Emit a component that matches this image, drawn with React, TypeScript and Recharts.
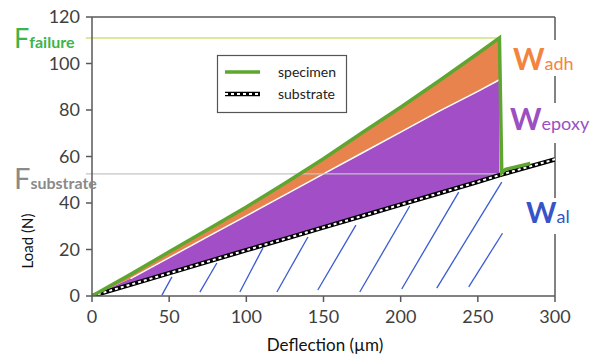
import React from 'react';
import {
  ComposedChart,
  Area,
  Line,
  XAxis,
  YAxis,
  ReferenceLine,
} from 'recharts';

// loading curve (deflection in µm, load in N)
const deflection = [0, 25, 50, 75, 100, 125, 150, 175, 200, 225, 250, 264];
const specimenLoad = [0, 9.3, 19, 28.6, 38.3, 48.5, 59, 70.2, 81.2, 92.6, 104.3, 111];
const epoxyLoad = [0, 7.5, 16.5, 25.5, 34.5, 43.5, 52.5, 61.5, 70.5, 79.5, 88, 93];
const substrateLoad = [0, 4.9, 9.8, 14.8, 19.7, 24.6, 29.5, 34.4, 39.3, 44.2, 49.1, 52];

// after failure the specimen follows the substrate
const afterDeflection = [265.5, 268, 284];
const afterLoad = [53, 54.5, 57];

const substrateEndX = 300;
const substrateEndLoad = 58.8;

const failureLoad = 111;
const substrateFailureLoad = 52.5;

// hand-drawn hatching under the substrate line
const hatchX0 = [45.3, 69.9, 95.8, 119.8, 146.3, 173.5, 200.7, 223.4, 244.1];
const hatchY0 = [0.4, 1.7, 1.7, 1.7, 2.6, 1.7, 3.0, 3.4, 3.9];
const hatchX1 = [51.8, 80.9, 110.7, 139.9, 171, 205.9, 237.6, 265.5, 266];
const hatchY1 = [8.2, 14.2, 20.6, 25.4, 30.5, 38.7, 44.7, 49, 27];

const xTicks = [0, 50, 100, 150, 200, 250, 300];
const yTicks = [0, 20, 40, 60, 80, 100, 120];

const FONT = 'Lato, "Open Sans", sans-serif';
const AXIS = '#595959';
const GREEN = '#5fa630';
const ORANGE = '#e9834e';
const PURPLE = '#a24ec6';
const BLUE = '#3b5bd1';

const fillData = deflection.map((x, i) => ({
  x,
  specimen: specimenLoad[i],
  epoxy: epoxyLoad[i],
  substrate: substrateLoad[i],
}));

const specimenData = [
  ...deflection.map((x, i) => ({ x, load: specimenLoad[i] })),
  ...afterDeflection.map((x, i) => ({ x, load: afterLoad[i] })),
];

const substrateData = [
  ...deflection.map((x, i) => ({ x, load: substrateLoad[i] })),
  { x: substrateEndX, load: substrateEndLoad },
];

const epoxyData = deflection.map((x, i) => ({ x, load: epoxyLoad[i] })).slice(1);

const Labels = () => (
  <svg
    width={598}
    height={357}
    style={{ position: 'absolute', left: 0, top: 0, pointerEvents: 'none' }}
    fontFamily={FONT}
  >
    {/* F labels on the left */}
    <text x={14} y={48} fill="#3cb44b">
      <tspan fontSize={27}>F</tspan>
      <tspan fontSize={16} fontWeight={700}>failure</tspan>
    </text>
    <text x={14} y={189} fill="#8a8a8a">
      <tspan fontSize={29}>F</tspan>
      <tspan fontSize={16} fontWeight={700}>substrate</tspan>
    </text>

    {/* W labels on the right, white boxes break the frame */}
    <rect x={511} y={40} width={62} height={36} fill="#fff" />
    <text x={513} y={70} fill="#f38440">
      <tspan fontSize={30} fontWeight={700}>W</tspan>
      <tspan fontSize={18}>adh</tspan>
    </text>
    <rect x={508} y={103} width={88} height={40} fill="#fff" />
    <text x={510} y={130} fill="#9c4fc1">
      <tspan fontSize={30} fontWeight={700}>W</tspan>
      <tspan fontSize={18}>epoxy</tspan>
    </text>
    <rect x={524} y={198} width={52} height={36} fill="#fff" />
    <text x={526} y={223} fill="#3653c9">
      <tspan fontSize={29} fontWeight={700}>W</tspan>
      <tspan fontSize={18}>al</tspan>
    </text>

    {/* legend */}
    <rect x={217.5} y={55.5} width={129} height={57} fill="#fff" stroke="#555" strokeWidth={1.2} />
    <line x1={225} y1={72} x2={260} y2={72} stroke={GREEN} strokeWidth={3.5} />
    <text x={278} y={77} fontSize={14} fill="#222">specimen</text>
    <line x1={225} y1={94} x2={260} y2={94} stroke="#000" strokeWidth={4.5} />
    <line x1={225} y1={94} x2={260} y2={94} stroke="#fff" strokeWidth={2} strokeDasharray="3 3" />
    <text x={278} y={99} fontSize={14} fill="#222">substrate</text>
  </svg>
);

export default function App() {
  return (
    <div style={{ position: 'absolute', left: 0, top: 0, width: 598, height: 357, background: '#fff' }}>
      <ComposedChart width={598} height={357} margin={{ top: 17, right: 43, bottom: 0, left: 0 }}>
        <XAxis
          type="number"
          dataKey="x"
          domain={[0, 300]}
          ticks={xTicks}
          allowDataOverflow
          height={61}
          stroke={AXIS}
          strokeWidth={1.5}
          tickSize={6}
          tickMargin={8}
          tick={{ fill: '#3f3f3f', fontSize: 18, fontFamily: FONT }}
          label={{
            content: () => (
              <text x={325} y={351} textAnchor="middle" fontSize={17} fontFamily={FONT} fill="#111">
                Deflection (µm)
              </text>
            ),
          }}
        />
        <YAxis
          type="number"
          domain={[0, 120]}
          ticks={yTicks}
          allowDataOverflow
          width={92}
          stroke={AXIS}
          strokeWidth={1.5}
          tickSize={6}
          tickMargin={6}
          tick={{ fill: '#3f3f3f', fontSize: 18, fontFamily: FONT }}
          label={{
            content: () => (
              <text
                x={27}
                y={241}
                transform="rotate(-90 27 241)"
                textAnchor="middle"
                dominantBaseline="central"
                fontSize={15}
                fontFamily={FONT}
                fill="#111"
              >
                Load (N)
              </text>
            ),
          }}
        />

        {/* frame */}
        <ReferenceLine y={120} stroke={AXIS} strokeWidth={1.5} />
        <ReferenceLine x={300} stroke={AXIS} strokeWidth={1.5} />

        <Area
          data={fillData}
          dataKey={(d: any) => [d.substrate, d.epoxy]}
          type="linear"
          stroke="none"
          fill={PURPLE}
          fillOpacity={1}
          isAnimationActive={false}
        />
        <Area
          data={fillData}
          dataKey={(d: any) => [d.epoxy, d.specimen]}
          type="linear"
          stroke="none"
          fill={ORANGE}
          fillOpacity={1}
          isAnimationActive={false}
        />
        <Line
          data={epoxyData}
          dataKey="load"
          type="linear"
          stroke="#fff"
          strokeWidth={1.5}
          dot={false}
          isAnimationActive={false}
        />

        {hatchX0.map((x0, i) => (
          <ReferenceLine
            key={i}
            segment={[
              { x: x0, y: hatchY0[i] },
              { x: hatchX1[i], y: hatchY1[i] },
            ]}
            stroke={BLUE}
            strokeWidth={1.3}
          />
        ))}

        <ReferenceLine
          segment={[{ x: -4, y: substrateFailureLoad }, { x: 265, y: substrateFailureLoad }]}
          stroke="#c4c4c4"
          strokeWidth={1.2}
          ifOverflow="visible"
        />
        <ReferenceLine
          segment={[{ x: -4, y: failureLoad }, { x: 264, y: failureLoad }]}
          stroke="#cde27e"
          strokeWidth={1.5}
          ifOverflow="visible"
        />

        <Line
          data={substrateData}
          dataKey="load"
          type="linear"
          stroke="#000"
          strokeWidth={4.5}
          dot={false}
          isAnimationActive={false}
        />
        <Line
          data={substrateData}
          dataKey="load"
          type="linear"
          stroke="#fff"
          strokeWidth={2}
          strokeDasharray="3 3"
          dot={false}
          isAnimationActive={false}
        />
        <Line
          data={specimenData}
          dataKey="load"
          type="linear"
          stroke={GREEN}
          strokeWidth={3.5}
          dot={false}
          isAnimationActive={false}
        />
      </ComposedChart>
      <Labels />
    </div>
  );
}
